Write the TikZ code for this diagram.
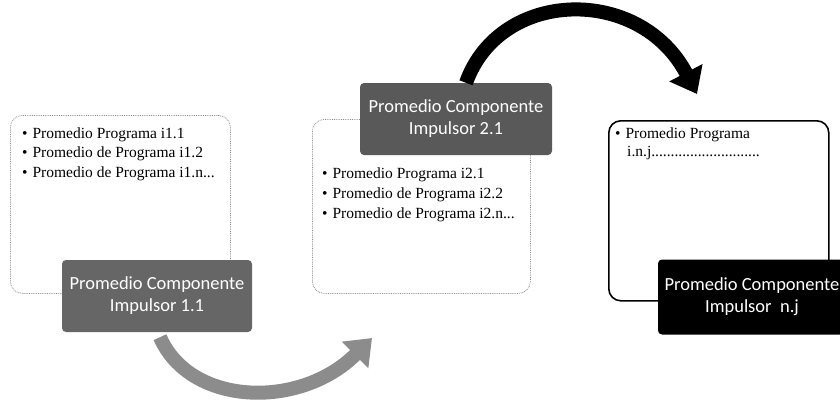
\documentclass[tikz,border=0pt]{standalone}
\usepackage{fontspec}
\setmainfont{Liberation Serif}
\newfontfamily\labfont{Carlito}
\usetikzlibrary{arrows.meta}
\tikzset{
  listbox/.style={draw=black!45, densely dotted, line width=0.8pt, rounded corners=12pt, fill=white, anchor=north west, inner sep=0pt},
  lastbox/.style={draw=black, line width=1.6pt, rounded corners=12pt, fill=white, anchor=north west, inner sep=0pt},
  tag/.style={rounded corners=4pt, text=white, align=center, inner sep=0pt,
    font=\labfont\fontsize{18.5}{22}\selectfont},
  item/.style={anchor=base west, inner sep=0pt, font=\fontsize{15.5}{19}\selectfont},
  bigarrow/.style={line width=14pt, -{Triangle[length=24pt,width=36pt]}}
}
\begin{document}
\begin{tikzpicture}[x=1pt,y=-1pt]
\useasboundingbox (0,0) rectangle (840,404);

% list boxes
\node[listbox, minimum width=220pt, minimum height=178pt] (box1) at (10,115) {};
\node[listbox, minimum width=218pt, minimum height=174pt] (box2) at (312,119) {};
\node[lastbox, minimum width=220pt, minimum height=180pt] (box3) at (608,120) {};

% list texts
\node[item] (l11) at (22,138) {\textbullet\hspace{5pt}Promedio Programa i1.1};
\node[item] (l12) at (22,157) {\textbullet\hspace{5pt}Promedio de Programa i1.2};
\node[item] (l13) at (22,177) {\textbullet\hspace{5pt}Promedio de Programa i1.n...};

\node[item] (l21) at (322,178) {\textbullet\hspace{5pt}Promedio Programa i2.1};
\node[item] (l22) at (322,198) {\textbullet\hspace{5pt}Promedio de Programa i2.2};
\node[item] (l23) at (322,218) {\textbullet\hspace{5pt}Promedio de Programa i2.n...};

\node[item] (l31) at (615,138) {\textbullet\hspace{5pt}Promedio Programa};
\node[item] (l32) at (627,156) {i.n.j............................};

% labels and arrows
\coordinate (a1end) at (372,338);
\coordinate (a2end) at (697,94);
\node[tag, fill=black!60, minimum width=190pt, minimum height=72pt] (lab1) at (157,296) {Promedio Componente\\Impulsor 1.1};
\node[tag, fill=black!65, minimum width=192pt, minimum height=72pt] (lab2) at (456,119) {Promedio Componente\\Impulsor 2.1};

\draw[bigarrow, draw=black!45] ([xshift=3pt]lab1.south) ++(0,5) .. controls (190,406) and (300,410) .. (a1end);
\draw[bigarrow, draw=black] ([xshift=10pt]lab2.north) .. controls (500,-12) and (640,-15) .. (a2end);

\node[tag, fill=black, minimum width=188pt, minimum height=75pt] (lab3) at (752,297) {Promedio Componente\\Impulsor\ \ n.j};
\end{tikzpicture}
\end{document}
